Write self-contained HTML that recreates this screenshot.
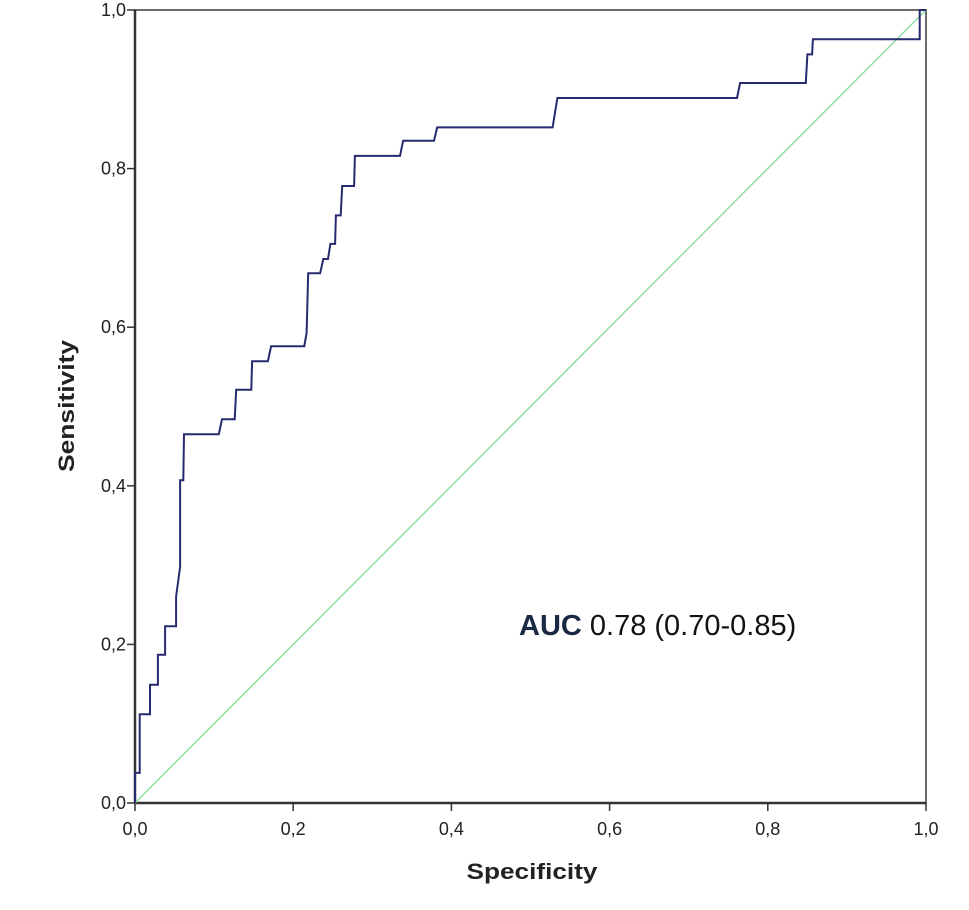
<!DOCTYPE html>
<html><head><meta charset="utf-8"><style>
html,body{margin:0;padding:0;background:#fff;}
svg{display:block;font-family:"Liberation Sans",Arial,sans-serif;}
</style></head><body>
<svg id="chart" width="969" height="910" viewBox="0 0 969 910">
<rect x="135" y="10" width="791" height="793" fill="#fff" stroke="#6b6b6b" stroke-width="2"/>
<g id="axes"></g>
<line id="diag" stroke="#8fe0a0" stroke-width="1.5"/>
<path id="roc" fill="none" stroke="#262a6e" stroke-width="2"/>
<text x="74" y="406" transform="rotate(-90 74 406)" text-anchor="middle" font-size="22" font-weight="bold" fill="#222" textLength="132" lengthAdjust="spacingAndGlyphs">Sensitivity</text>
<text x="532" y="879" text-anchor="middle" font-size="22" font-weight="bold" fill="#222" textLength="131" lengthAdjust="spacingAndGlyphs">Specificity</text>
<text x="519" y="635" font-size="29" fill="#111"><tspan font-weight="bold" fill="#1a2a44">AUC</tspan> 0.78 (0.70-0.85)</text>
</svg>
<script>
const fpr=[0,0,0.006,0.006,0.019,0.019,0.029,0.029,0.038,0.038,0.052,0.052,0.057,0.057,0.061,0.062,0.106,0.110,0.126,0.128,0.147,0.148,0.168,0.172,0.214,0.217,0.219,0.234,0.238,0.244,0.247,0.253,0.254,0.260,0.262,0.277,0.278,0.335,0.339,0.378,0.382,0.528,0.534,0.761,0.765,0.848,0.850,0.856,0.857,0.992,0.992,1];
const tpr=[0,0.038,0.038,0.112,0.112,0.149,0.149,0.187,0.187,0.223,0.223,0.260,0.298,0.407,0.407,0.465,0.465,0.484,0.484,0.521,0.521,0.557,0.557,0.576,0.576,0.593,0.668,0.668,0.686,0.686,0.705,0.705,0.741,0.741,0.778,0.778,0.816,0.816,0.835,0.835,0.852,0.852,0.889,0.889,0.908,0.908,0.944,0.944,0.963,0.963,1,1];
const ticks=[0,0.2,0.4,0.6,0.8,1.0];
const tickLabels=["0,0","0,2","0,4","0,6","0,8","1,0"];
const X0=135,X1=926,Y0=803,Y1=10;
const sx=v=>X0+v*(X1-X0);
const sy=v=>Y0-v*(Y0-Y1);
const NS="http://www.w3.org/2000/svg";
const ax=document.getElementById('axes');
function mk(tag,attrs){const e=document.createElementNS(NS,tag);for(const k in attrs)e.setAttribute(k,attrs[k]);return e;}
const yl=mk('line',{x1:X0,y1:Y1,x2:X0,y2:Y0,stroke:'#333','stroke-width':2.5});


ax.appendChild(yl);
const xl=mk('line',{x1:X0,y1:Y0,x2:X1,y2:Y0,stroke:'#333','stroke-width':2.5});


ax.appendChild(xl);
ticks.forEach((t,i)=>{
  const a=mk('line',{x1:X0-8,y1:sy(t),x2:X0,y2:sy(t),stroke:'#333','stroke-width':1.5});
  
  
  ax.appendChild(a);
  const ta=mk('text',{x:X0-9,y:sy(t)+6,'text-anchor':'end','font-size':18,fill:'#222'});
  ta.textContent=tickLabels[i];
  
  
  ax.appendChild(ta);
  const b=mk('line',{x1:sx(t),y1:Y0,x2:sx(t),y2:Y0+8,stroke:'#333','stroke-width':1.5});
  
  
  ax.appendChild(b);
  const tb=mk('text',{x:sx(t),y:Y0+32,'text-anchor':'middle','font-size':18,fill:'#222'});
  tb.textContent=tickLabels[i];
  
  
  ax.appendChild(tb);
});
const d=document.getElementById('diag');
d.setAttribute('x1',sx(0));d.setAttribute('y1',sy(0));d.setAttribute('x2',sx(1));d.setAttribute('y2',sy(1));
document.getElementById('roc').setAttribute('d',fpr.map((v,i)=>(i?'L':'M')+sx(v).toFixed(1)+' '+sy(tpr[i]).toFixed(1)).join(' '));
</script>
</body></html>
